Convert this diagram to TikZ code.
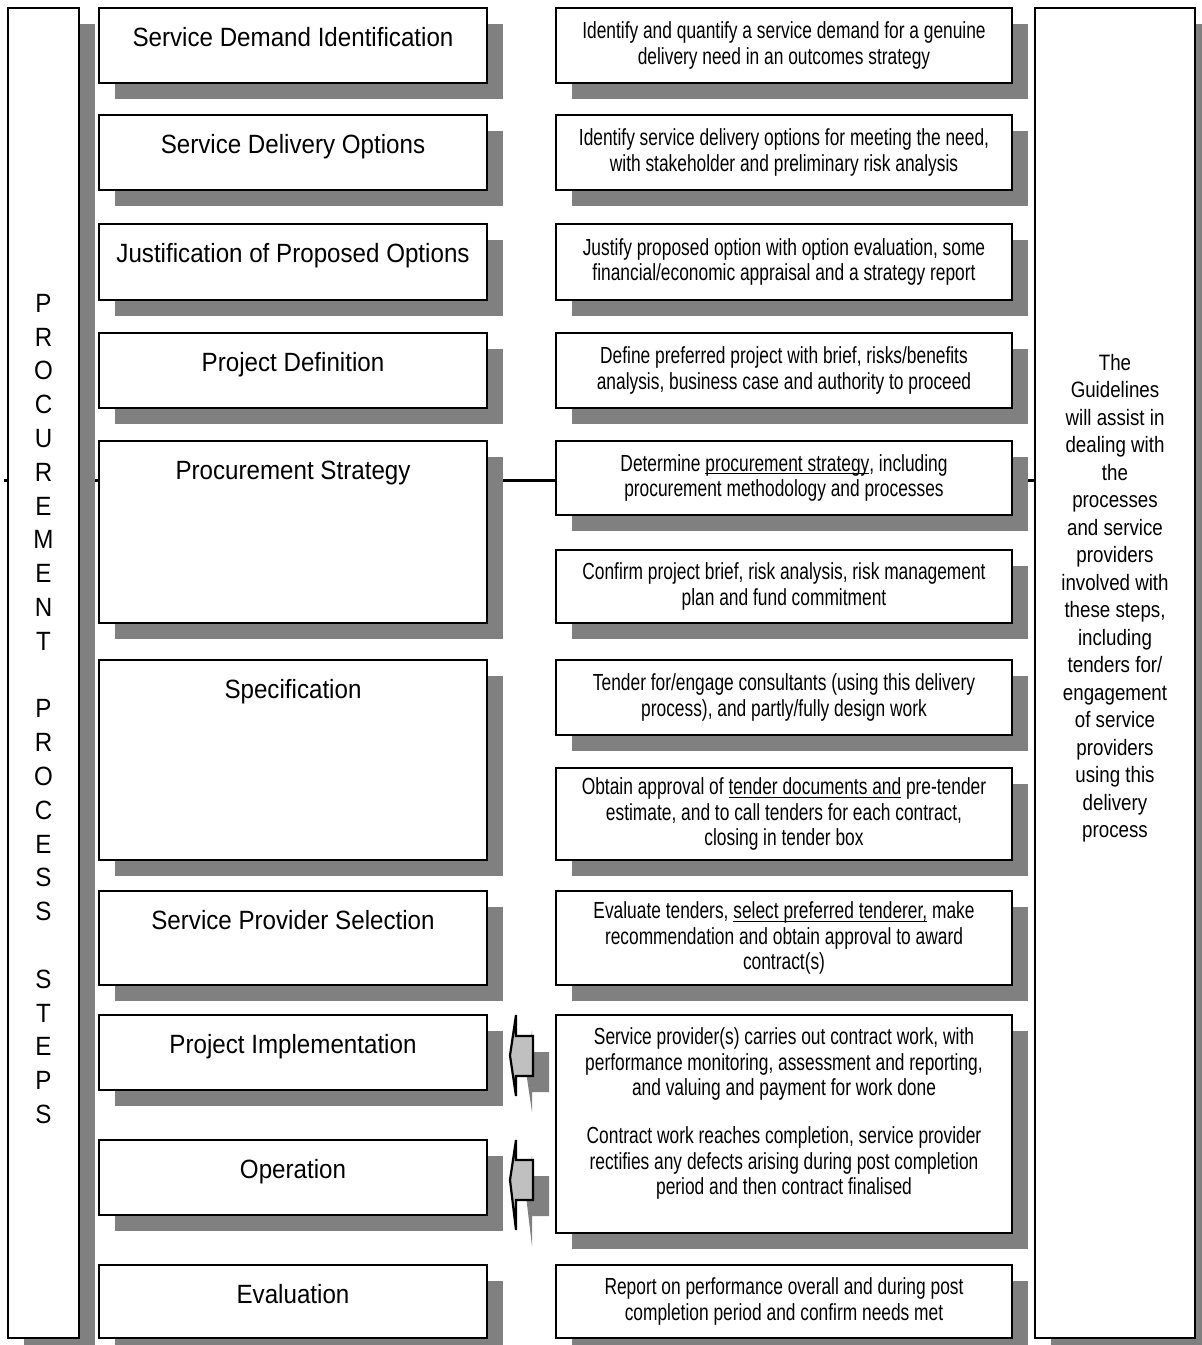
\documentclass[tikz,border=0pt]{standalone}
\usepackage{fontspec}
\setmainfont{Liberation Sans}
\newfontfamily\stepfamily[FakeStretch=0.915]{Liberation Sans}
\newfontfamily\descfamily[FakeStretch=0.745]{Liberation Sans}
\newfontfamily\guidefamily[FakeStretch=0.84]{Liberation Sans}
\newcommand\stepfont{\stepfamily\fontsize{13.2pt}{15.8pt}\selectfont}
\newcommand\letterfont{\stepfamily\fontsize{13.2pt}{16.9pt}\selectfont}
\newcommand\descfont{\descfamily\fontsize{11.65pt}{12.85pt}\selectfont}
\newcommand\guidefont{\guidefamily\fontsize{11.15pt}{13.75pt}\selectfont}
\newcommand\uln[1]{\leavevmode\setbox0\hbox{#1}\rlap{\rule[-1.6pt]{\wd0}{0.5pt}}\box0\relax}
\usetikzlibrary{positioning,calc,shadows,backgrounds}
\definecolor{shadowgray}{HTML}{808080}
\definecolor{arrowgray}{HTML}{C0C0C0}

\begin{document}
\begin{tikzpicture}[x=0.5pt, y=-0.5pt,
  boxshadow/.style={drop shadow={shadow xshift=8pt, shadow yshift=-8pt, fill=shadowgray, opacity=1}},
  stepbox/.style={rectangle, draw=black, line width=1.1pt, fill=white, minimum width=194pt, inner sep=0pt, boxshadow},
  steplabel/.style={font=\stepfont, anchor=base, inner sep=0pt},
  descbox/.style={rectangle, draw=black, line width=1.1pt, fill=white, minimum width=228pt, inner sep=0pt, font=\descfont, align=center, boxshadow},
  desctext/.style={font=\descfont, align=center, inner sep=0pt},
  sidebox/.style={rectangle, draw=black, line width=1.1pt, fill=white, minimum height=665pt, inner sep=0pt, boxshadow},
  blockarrow/.style={draw=black, line width=1.1pt, fill=arrowgray, line join=miter, boxshadow}]
	\useasboundingbox (0,0) rectangle (1202,1345);

	% side columns
	\node[sidebox, minimum width=35.5pt] (steps) at (43.5,673) {};
	\node[font=\letterfont, align=center, inner sep=0pt] (stepsword) at (43.5,709) {P\\R\\O\\C\\U\\R\\E\\M\\E\\N\\T\\~\\P\\R\\O\\C\\E\\S\\S\\~\\S\\T\\E\\P\\S};
	\node[sidebox, minimum width=80pt] (guide) at (1115,673) {};
	\node[font=\guidefont, align=center, inner sep=0pt] (guidetext) at (1115,598) {The\\Guidelines\\will assist in\\dealing with\\the\\processes\\and service\\providers\\involved with\\these steps,\\including\\tenders for/\\engagement\\of service\\providers\\using this\\delivery\\process};

	% process steps
	\node[stepbox, minimum height=37.5pt] (s1) at (293,45.5) {};
	\node[steplabel] (l1) at ($(s1.north)+(0,39.5)$) {Service Demand Identification};
	\node[stepbox, minimum height=37.5pt] (s2) at (293,152.5) {};
	\node[steplabel] (l2) at ($(s2.north)+(0,39.5)$) {Service Delivery Options};
	\node[stepbox, minimum height=38pt] (s3) at (293,262) {};
	\node[steplabel] (l3) at ($(s3.north)+(0,39.5)$) {Justification of Proposed Options};
	\node[stepbox, minimum height=37.5pt] (s4) at (293,370.5) {};
	\node[steplabel] (l4) at ($(s4.north)+(0,39.5)$) {Project Definition};
	\node[stepbox, minimum height=91pt] (s5) at (293,532) {};
	\node[steplabel] (l5) at ($(s5.north)+(0,39.5)$) {Procurement Strategy};
	\node[stepbox, minimum height=100pt] (s6) at (293,760) {};
	\node[steplabel] (l6) at ($(s6.north)+(0,39.5)$) {Specification};
	\node[stepbox, minimum height=47pt] (s7) at (293,938) {};
	\node[steplabel] (l7) at ($(s7.north)+(0,39.5)$) {Service Provider Selection};
	\node[stepbox, minimum height=37.5pt] (s8) at (293,1052.5) {};
	\node[steplabel] (l8) at ($(s8.north)+(0,39.5)$) {Project Implementation};
	\node[stepbox, minimum height=37.5pt] (s9) at (293,1177.5) {};
	\node[steplabel] (l9) at ($(s9.north)+(0,39.5)$) {Operation};
	\node[stepbox, minimum height=36.5pt] (s10) at (293,1301.5) {};
	\node[steplabel] (l10) at ($(s10.north)+(0,39.5)$) {Evaluation};

	% descriptions
	\node[descbox, minimum height=37.5pt] (d1) at (784,45.5) {Identify and quantify a service demand for a genuine\\delivery need in an outcomes strategy};
	\node[descbox, minimum height=37.5pt] (d2) at (784,152.5) {Identify service delivery options for meeting the need,\\with stakeholder and preliminary risk analysis};
	\node[descbox, minimum height=38pt] (d3) at (784,262) {Justify proposed option with option evaluation, some\\financial/economic appraisal and a strategy report};
	\node[descbox, minimum height=37.5pt] (d4) at (784,370.5) {Define preferred project with brief, risks/benefits\\analysis, business case and authority to proceed};
	\node[descbox, minimum height=37pt] (d5) at (784,478) {Determine \uln{procurement strategy}, including\\procurement methodology and processes};
	\node[descbox, minimum height=36.5pt] (d6) at (784,586.5) {Confirm project brief, risk analysis, risk management\\plan and fund commitment};
	\node[descbox, minimum height=37.5pt] (d7) at (784,697.5) {Tender for/engage consultants (using this delivery\\process), and partly/fully design work};
	\node[descbox, minimum height=46pt] (d8) at (784,814) {Obtain approval of \uln{tender documents and} pre-tender\\estimate, and to call tenders for each contract,\\closing in tender box};
	\node[descbox, minimum height=47pt] (d9) at (784,938) {Evaluate tenders, \uln{select preferred tenderer,} make\\recommendation and obtain approval to award\\contract(s)};
	\node[descbox, minimum height=109pt] (d10) at (784,1124) {};
	\node[desctext] (d10a) at (784,1064) {Service provider(s) carries out contract work, with\\performance monitoring, assessment and reporting,\\and valuing and payment for work done};
	\node[desctext] (d10b) at (784,1163) {Contract work reaches completion, service provider\\rectifies any defects arising during post completion\\period and then contract finalised};
	\node[descbox, minimum height=36.5pt] (d11) at (784,1301.5) {Report on performance overall and during post\\completion period and confirm needs met};

	% arrows back to the steps
	\path[blockarrow] (533,1036) -- (516,1036) -- (516,1015) -- (510,1055.5) -- (516,1096) -- (516,1076) -- (533,1076) -- cycle;
	\path[blockarrow] (533,1160) -- (516,1160) -- (516,1140) -- (510,1180) -- (516,1230) -- (516,1200) -- (533,1200) -- cycle;

	\begin{scope}[on background layer]
		\coordinate (tick) at (4,480);
		\draw[line width=1.5pt] (tick) -- (tick -| guide.west);
	\end{scope}
\end{tikzpicture}
\end{document}
